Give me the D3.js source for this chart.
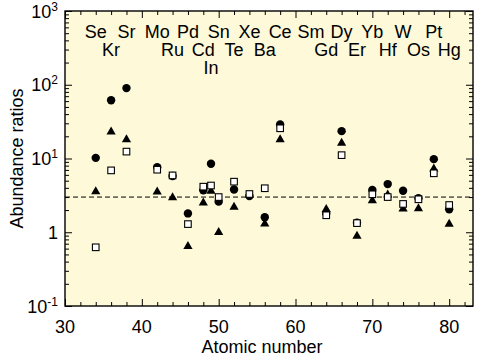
<!DOCTYPE html>
<html>
<head>
<meta charset="utf-8">
<script src="https://cdn.jsdelivr.net/npm/d3@7"></script>
<style>
  html, body { margin: 0; padding: 0; background: #ffffff; }
  svg { display: block; }
  text { font-family: "Liberation Sans", Arial, Helvetica, sans-serif; fill: #000; }
</style>
</head>
<body>
<svg id="chart" width="480" height="359"></svg>
<script>
// ---- data ----
const elements = ["Se","Kr","Sr","Mo","Ru","Pd","Cd","In","Sn","Te","Xe","Ba","Ce","Sm","Gd","Dy","Er","Yb","Hf","W","Os","Pt","Hg"];
const atomicNumbers = [34,36,38,42,44,46,48,49,50,52,54,56,58,62,64,66,68,70,72,74,76,78,80];
const labelRows = [0,1,0,0,1,0,1,2,0,1,0,1,0,0,1,0,1,0,1,0,1,0,1];

// filled circles
const circleValues = [10.2,61.5,90,7.6,5.8,1.8,3.7,8.5,2.6,3.8,3.1,1.6,29,null,1.8,23.5,1.35,3.75,4.5,3.65,2.9,9.8,2.05];
// filled triangles
const triangleValues = [3.65,23.5,18.4,3.6,3.03,0.66,2.57,3.7,1.02,2.25,null,1.33,18.4,null,2.1,16.6,0.91,2.74,3.3,2.13,2.15,7.4,1.32];
// open squares
const squareValues = [0.625,6.9,12.4,7.05,5.9,1.29,4.15,4.3,3.0,4.85,3.3,3.95,25.7,null,1.7,11.1,1.33,3.27,3.0,2.42,2.8,6.3,2.34];

const referenceLevel = 3;

const xTickMajor = [30,40,50,60,70,80];
const xTickMinor = [32,34,36,38,42,44,46,48,52,54,56,58,62,64,66,68,72,74,76,78,82];
const yTickValues = [0.1,1,10,100,1000];
const yTickBase = ["10","1","10","10","10"];
const yTickExp = ["-1","","1","2","3"];
const xTitle = "Atomic number";
const yTitle = "Abundance ratios";

// ---- layout ----
const L = 65, R = 473, T = 11, B = 306;
const svg = d3.select("#chart");
const x = d3.scaleLinear().domain([30, 83.1]).range([L, R]);
const y = d3.scaleLog().domain([0.1, 1000]).range([B, T]);

const yMinor = [];
for (let e = -1; e < 3; e++) for (let m = 2; m <= 9; m++) yMinor.push(m * Math.pow(10, e));

svg.append("rect").attr("x", L).attr("y", T).attr("width", R - L).attr("height", B - T)
  .attr("fill", "#fdf9d9");

function tickAxis(axisFn, scale, values, size, transform) {
  const g = svg.append("g").attr("transform", transform)
    .call(axisFn(scale).tickValues(values).tickSize(size).tickFormat(""));
  g.select(".domain").remove();
  g.selectAll(".tick line").attr("stroke", "#000").attr("stroke-width", 1);
  return g;
}
// inside ticks on all four sides
tickAxis(d3.axisBottom, x, xTickMajor, -7, `translate(0,${B})`);
tickAxis(d3.axisBottom, x, xTickMinor, -4, `translate(0,${B})`);
tickAxis(d3.axisTop, x, xTickMajor, -7, `translate(0,${T})`);
tickAxis(d3.axisTop, x, xTickMinor, -4, `translate(0,${T})`);
tickAxis(d3.axisLeft, y, yTickValues, -7, `translate(${L},0)`);
tickAxis(d3.axisLeft, y, yMinor, -4, `translate(${L},0)`);
tickAxis(d3.axisRight, y, yTickValues, -7, `translate(${R},0)`);
tickAxis(d3.axisRight, y, yMinor, -4, `translate(${R},0)`);

// x tick labels
svg.append("g").selectAll("text").data(xTickMajor).join("text")
  .attr("x", d => x(d)).attr("y", B + 27)
  .attr("text-anchor", "middle").attr("font-size", 18)
  .text(d => d);

// y tick labels with superscripts
const yl = svg.append("g").selectAll("text").data(yTickValues).join("text")
  .attr("x", 58).attr("y", d => y(d) + 6.5)
  .attr("text-anchor", "end").attr("font-size", 18);
yl.append("tspan").text((d, i) => yTickBase[i]);
yl.append("tspan").attr("dy", -7).attr("font-size", 12).text((d, i) => yTickExp[i]);

// axis titles
svg.append("text").attr("x", 262).attr("y", 353).attr("text-anchor", "middle")
  .attr("font-size", 18).text(xTitle);
svg.append("text").attr("transform", `translate(23,${(T + B) / 2}) rotate(-90)`)
  .attr("text-anchor", "middle").attr("font-size", 18).text(yTitle);

// element labels
svg.append("g").selectAll("text").data(elements).join("text")
  .attr("x", (d, i) => x(atomicNumbers[i]))
  .attr("y", (d, i) => 38 + labelRows[i] * 18)
  .attr("text-anchor", "middle").attr("font-size", 18)
  .text(d => d);

// reference dashed line
svg.append("line").attr("x1", L).attr("x2", R)
  .attr("y1", y(referenceLevel)).attr("y2", y(referenceLevel))
  .attr("stroke", "#000").attr("stroke-width", 1).attr("stroke-dasharray", "5,3");

// markers
const idx = atomicNumbers.map((z, i) => i);
svg.append("g").selectAll("circle").data(idx.filter(i => circleValues[i] != null)).join("circle")
  .attr("cx", i => x(atomicNumbers[i])).attr("cy", i => y(circleValues[i]))
  .attr("r", 4.2).attr("fill", "#000");

svg.append("g").selectAll("path").data(idx.filter(i => triangleValues[i] != null)).join("path")
  .attr("transform", i => `translate(${x(atomicNumbers[i])},${y(triangleValues[i])})`)
  .attr("d", "M0,-4.6L4.6,3.4L-4.6,3.4Z").attr("fill", "#000");

svg.append("g").selectAll("rect").data(idx.filter(i => squareValues[i] != null)).join("rect")
  .attr("x", i => x(atomicNumbers[i]) - 3.3).attr("y", i => y(squareValues[i]) - 3.3)
  .attr("width", 6.6).attr("height", 6.6)
  .attr("fill", "#fff").attr("stroke", "#000").attr("stroke-width", 1.1);

// frame
svg.append("rect").attr("x", L).attr("y", T).attr("width", R - L).attr("height", B - T)
  .attr("fill", "none").attr("stroke", "#000").attr("stroke-width", 1.4);
</script>
</body>
</html>
